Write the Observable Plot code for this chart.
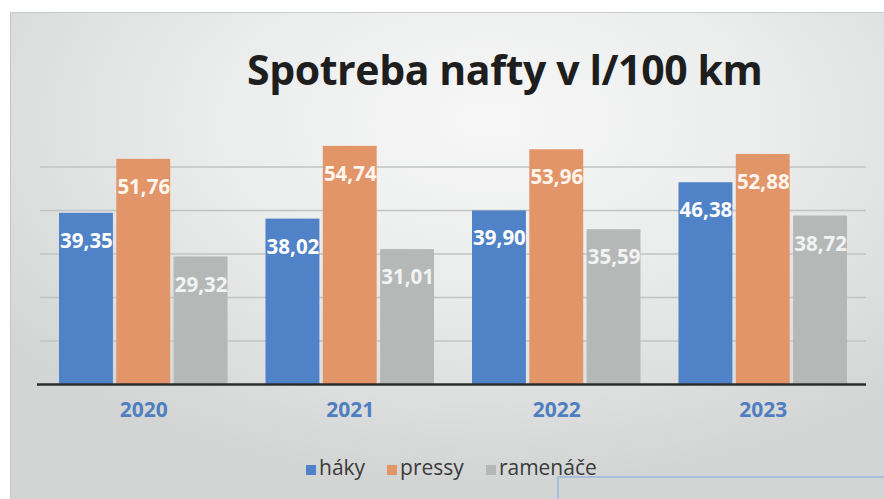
<!DOCTYPE html>
<html>
<head>
<meta charset="utf-8">
<script src="https://cdn.jsdelivr.net/npm/d3@7"></script>
<script src="https://cdn.jsdelivr.net/npm/@observablehq/plot@0.6"></script>
<style>
  html, body { margin: 0; padding: 0; background: #ffffff; }
  #wrap { position: relative; width: 884px; height: 499px; overflow: hidden; font-family: "Open Sans", sans-serif; }
  #bg { position: absolute; left: 10px; top: 12px; right: 0; bottom: 0;
        background: radial-gradient(ellipse 70% 75% at 55% 22%, #f7f7f7 0%, #ebecec 45%, #dcdede 80%, #d3d5d5 100%);
        border-top: 1px solid #c9cbcb; border-left: 1px solid #c4c6c6; }
  #title { position: absolute; left: 247px; top: 41px; font-size: 41px; line-height: 56px; font-weight: 700; color: #1e1e1e; white-space: nowrap; letter-spacing: -0.4px; }
  #chart { position: absolute; left: 0; top: 0; }
  #legend { position: absolute; left: 306px; top: 453px; height: 28px; display: flex; align-items: center; font-size: 21px; line-height: 28px; color: #3a3a3a; }
  #legend .item { display: flex; align-items: center; margin-right: 22px; }
  #legend .sw { width: 10px; height: 10px; margin-right: 3px; transform: translateY(3px); }
  #stamp { position: absolute; left: 557px; top: 476px; width: 340px; height: 40px; border-top: 2px solid #9db8dc; border-left: 2px solid #9db8dc; opacity: 0.8; }
</style>
</head>
<body>
<div id="wrap">
  <div id="bg"></div>
  <div id="stamp"></div>
  <div id="title">Spotreba nafty v l/100 km</div>
  <div id="chart"></div>
  <div id="legend"></div>
</div>
<script>
const years = ["2020", "2021", "2022", "2023"];
const series = ["háky", "pressy", "ramenáče"];
const haky = [39.35, 38.02, 39.90, 46.38];
const pressy = [51.76, 54.74, 53.96, 52.88];
const ramenace = [29.32, 31.01, 35.59, 38.72];
const colors = ["#4f82c6", "#e3956a", "#b6b8b8"];
const labelColors = ["#ffffff", "#fff6ee", "#f2f3f3"];
const gridValues = [10, 20, 30, 40, 50];

const valuesBySeries = [haky, pressy, ramenace];
const fmt = v => v.toFixed(2).replace(".", ",");

// layout of the three bars inside each year band
const bandStep = 57.3;   // distance between bar centres inside a group

const barMarks = [];
const labelMarks = [];
series.forEach((s, j) => {
  const rows = years.map((y, i) => ({year: y, series: s, value: valuesBySeries[j][i]}));
  barMarks.push(Plot.barY(rows, {
    x: "year", y: "value", fill: colors[j],
    insetLeft: j * bandStep, insetRight: (2 - j) * bandStep
  }));
  labelMarks.push(Plot.text(rows, {
    x: "year", y: "value", text: d => fmt(d.value),
    dx: (j - 1) * bandStep, dy: 28,
    fill: labelColors[j], fontSize: 20.5, fontWeight: 700
  }));
});

const plot = Plot.plot({
  width: 884,
  height: 499,
  marginTop: 123,
  marginBottom: 115,
  marginLeft: 40,
  marginRight: 18,
  style: {background: "transparent", fontFamily: "Open Sans, sans-serif"},
  x: {domain: years, paddingInner: 0.184, paddingOuter: 0.092, axis: null, round: false},
  y: {domain: [0, 60], axis: null},
  marks: [
    Plot.ruleY(gridValues, {stroke: "#c2c4c4", strokeWidth: 1.3}),
    ...barMarks,
    ...labelMarks,
    Plot.text(years, {x: d => d, text: d => d, frameAnchor: "bottom", dy: 32,
      fill: "#4f7fc0", fontSize: 21, fontWeight: 700}),
    Plot.ruleY([0], {stroke: "#2c2c2c", strokeWidth: 2.6, insetLeft: -3})
  ]
});
document.getElementById("chart").appendChild(plot);

const legend = document.getElementById("legend");
series.forEach((s, j) => {
  const item = document.createElement("div");
  item.className = "item";
  const sw = document.createElement("span");
  sw.className = "sw";
  sw.style.background = colors[j];
  const t = document.createElement("span");
  t.textContent = s;
  item.appendChild(sw);
  item.appendChild(t);
  legend.appendChild(item);
});
</script>
</body>
</html>
